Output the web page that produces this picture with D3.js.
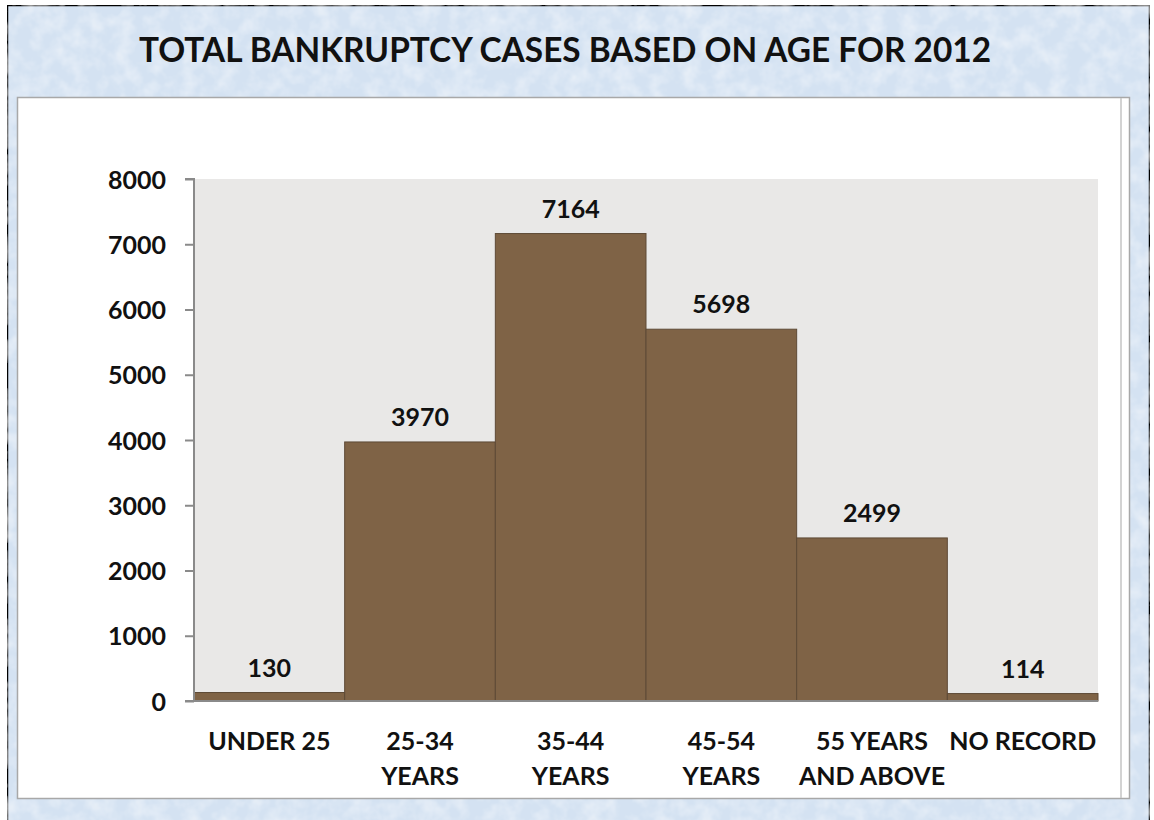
<!DOCTYPE html>
<html>
<head>
<meta charset="utf-8">
<script src="https://cdnjs.cloudflare.com/ajax/libs/d3/7.8.5/d3.min.js"></script>
<style>
  html, body { margin: 0; padding: 0; background: #fff; }
  svg { display: block; }
  text { font-family: Lato, "Open Sans", sans-serif; font-weight: bold; fill: #111; }
</style>
</head>
<body>
<svg id="chart"></svg>
<script>
var TITLE = "TOTAL BANKRUPTCY CASES BASED ON AGE FOR 2012";
var CATEGORIES = ["UNDER 25", "25-34 YEARS", "35-44 YEARS", "45-54 YEARS", "55 YEARS AND ABOVE", "NO RECORD"];
var CATEGORY_LINES = [["UNDER 25"], ["25-34", "YEARS"], ["35-44", "YEARS"], ["45-54", "YEARS"], ["55 YEARS", "AND ABOVE"], ["NO RECORD"]];
var CASES = [130, 3970, 7164, 5698, 2499, 114];
var Y_TICKS = [0, 1000, 2000, 3000, 4000, 5000, 6000, 7000, 8000];

(function () {
    var WIDTH = 1154, HEIGHT = 820;
    var PLOT = {left: 194, right: 1098, top: 179, bottom: 701};

    var svg = d3.select("#chart").attr("width", WIDTH).attr("height", HEIGHT);

    // textured pale blue backdrop
    var defs = svg.append("defs");
    var f = defs.append("filter").attr("id", "paper").attr("x", 0).attr("y", 0).attr("width", "100%").attr("height", "100%");
    f.append("feTurbulence").attr("type", "fractalNoise").attr("baseFrequency", 0.06).attr("numOctaves", 3).attr("seed", 4).attr("result", "n");
    f.append("feColorMatrix").attr("in", "n").attr("type", "matrix")
        .attr("values", "0 0 0 0 1  0 0 0 0 1  0 0 0 0 1  0 0 0 0.8 -0.3").attr("result", "w");
    f.append("feComposite").attr("in", "w").attr("in2", "SourceGraphic").attr("operator", "over");

    svg.append("rect").attr("x", 7).attr("y", 5).attr("width", 1143).attr("height", 820)
        .attr("fill", "#d4e2f2").attr("stroke", "#000").attr("stroke-width", 2.5)
        .attr("filter", "url(#paper)");

    svg.append("text").attr("x", 565).attr("y", 62).attr("text-anchor", "middle")
        .style("font-size", "33.4px").text(TITLE);

    // white panel
    svg.append("rect").attr("x", 17.5).attr("y", 97.5).attr("width", 1112).attr("height", 701)
        .attr("fill", "#fff").attr("stroke", "#a8a8a8").attr("stroke-width", 1.5);
    svg.append("line").attr("x1", 1121).attr("x2", 1121).attr("y1", 98).attr("y2", 798)
        .attr("stroke", "#c4c4c4").attr("stroke-width", 1.5);

    var x = d3.scaleBand().domain(CATEGORIES).range([PLOT.left, PLOT.right]).paddingInner(0).paddingOuter(0);
    var y = d3.scaleLinear().domain([0, 8000]).range([PLOT.bottom, PLOT.top]);

    svg.append("rect").attr("x", PLOT.left).attr("y", PLOT.top)
        .attr("width", PLOT.right - PLOT.left).attr("height", PLOT.bottom - PLOT.top)
        .attr("fill", "#e9e8e7");

    var data = CATEGORIES.map(function (c, i) { return {cat: c, lines: CATEGORY_LINES[i], v: CASES[i]}; });

    svg.append("g").selectAll("rect").data(data).enter().append("rect")
        .attr("x", function (d) { return x(d.cat); })
        .attr("y", function (d) { return y(d.v); })
        .attr("width", x.bandwidth())
        .attr("height", function (d) { return y(0) - y(d.v); })
        .attr("fill", "#7f6346").attr("stroke", "#5e4a36").attr("stroke-width", 1);

    svg.append("g").selectAll("text").data(data).enter().append("text")
        .attr("x", function (d) { return x(d.cat) + x.bandwidth() / 2; })
        .attr("y", function (d) { return y(d.v) - 16; })
        .attr("text-anchor", "middle").style("font-size", "25px")
        .text(function (d) { return d.v; });

    var yAxis = d3.axisLeft(y).tickValues(Y_TICKS).tickSize(9).tickPadding(19).tickFormat(d3.format("d"));
    var gy = svg.append("g").attr("transform", "translate(" + PLOT.left + ",0)").call(yAxis);
    gy.select(".domain").attr("stroke", "#8a8a8a").attr("stroke-width", 2).attr("d", "M-9," + PLOT.top + "H0V" + PLOT.bottom);
    gy.selectAll(".tick line").attr("stroke", "#8a8a8a").attr("stroke-width", 2);
    gy.selectAll(".tick text").style("font-size", "25px").style("font-family", "Lato, sans-serif")
        .attr("fill", "#111").attr("dy", "0.36em");

    svg.append("line").attr("x1", PLOT.left - 9).attr("x2", PLOT.right).attr("y1", PLOT.bottom).attr("y2", PLOT.bottom)
        .attr("stroke", "#8a8a8a").attr("stroke-width", 2);

    var xl = svg.append("g").selectAll("text").data(data).enter().append("text")
        .attr("text-anchor", "middle").style("font-size", "25px")
        .attr("x", function (d) { return x(d.cat) + x.bandwidth() / 2; })
        .attr("y", 750);
    xl.selectAll("tspan").data(function (d) { return d.lines.map(function (l) { return {l: l, cx: x(d.cat) + x.bandwidth() / 2}; }); })
        .enter().append("tspan")
        .attr("x", function (t) { return t.cx; })
        .attr("dy", function (t, i) { return i === 0 ? 0 : 35; })
        .text(function (t) { return t.l; });
}());
</script>
</body>
</html>
